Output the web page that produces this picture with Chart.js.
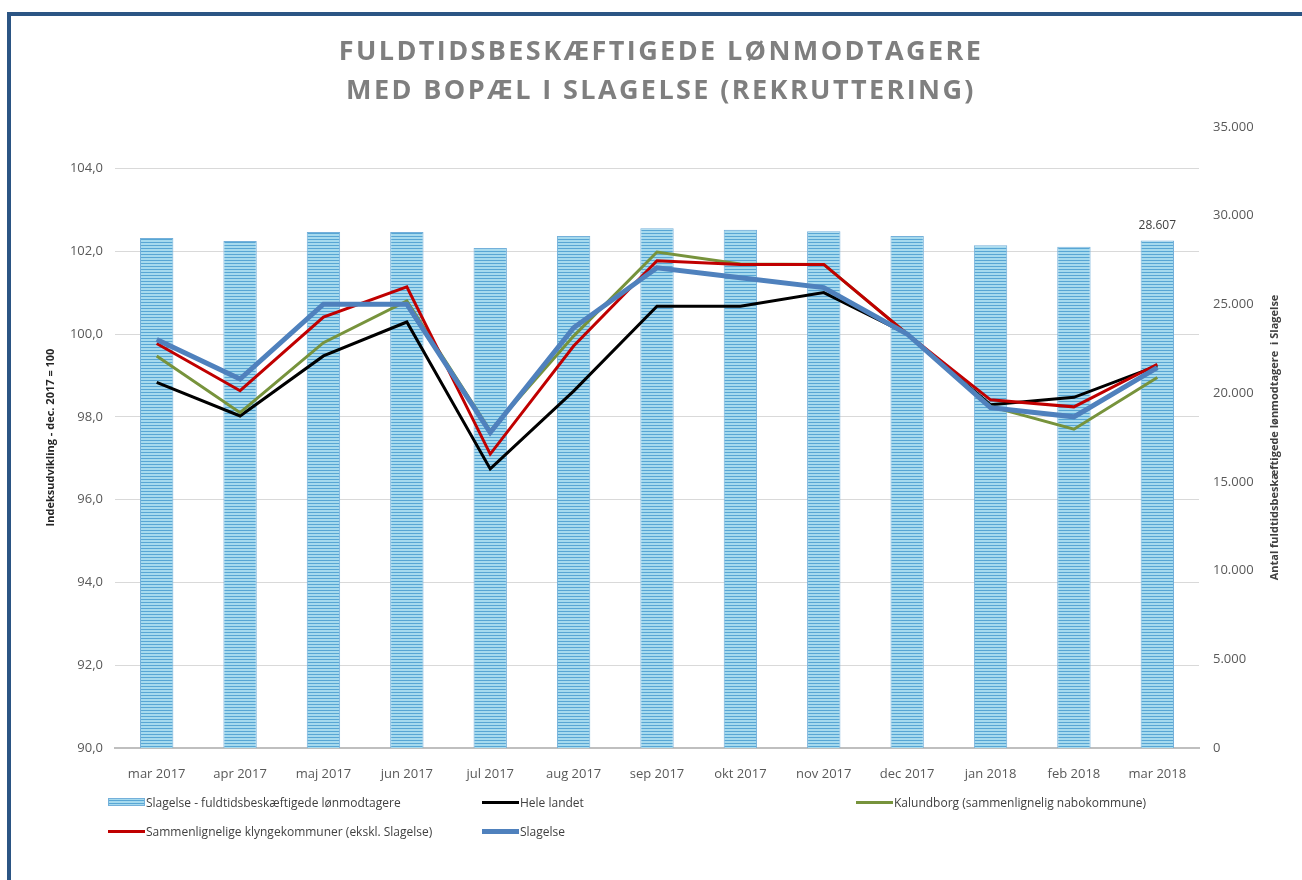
<!DOCTYPE html>
<html lang="da">
<head>
<meta charset="utf-8">
<title>Fuldtidsbeskæftigede lønmodtagere med bopæl i Slagelse</title>
<script src="https://cdn.jsdelivr.net/npm/chart.js@4.4.1/dist/chart.umd.min.js"></script>
<style>
  html, body { margin: 0; padding: 0; background: #fff; }
  body { width: 1302px; height: 880px; position: relative; overflow: hidden; font-family: "Open Sans", sans-serif; }
  #frame {
    position: absolute; left: 7px; top: 12px; right: -10px; bottom: -10px;
    border-top: 4px solid #2b5584; border-left: 4px solid #2b5584;
  }
  #chartBox { position: absolute; left: 0; top: 0; width: 1302px; height: 880px; }
  #title {
    position: absolute; left: 0; width: 1322px; top: 30px;
    text-align: center; color: #7f7f7f; font-weight: bold;
    font-size: 27px; line-height: 39px; letter-spacing: 2.4px;
  }
  #legend {
    position: absolute; left: 108px; top: 793px;
    display: grid; grid-template-columns: 374px 374px 374px; row-gap: 11px;
    font-size: 12px; color: #404040;
  }
  .item { display: flex; align-items: center; height: 18px; white-space: nowrap; }
  .swatch { width: 37px; margin-right: 1px; }
</style>
</head>
<body>
<div id="frame"></div>
<div id="chartBox"><canvas id="chart" width="1302" height="880"></canvas></div>
<div id="title">FULDTIDSBESKÆFTIGEDE LØNMODTAGERE<br>MED BOPÆL I SLAGELSE (REKRUTTERING)</div>
<div id="legend"></div>

<script>
// Categories (months)
const months = ['mar 2017', 'apr 2017', 'maj 2017', 'jun 2017', 'jul 2017', 'aug 2017', 'sep 2017',
  'okt 2017', 'nov 2017', 'dec 2017', 'jan 2018', 'feb 2018', 'mar 2018'];

// Number of full-time employees living in Slagelse (right axis)
const antalSlagelse = [28750, 28570, 29080, 29080, 28180, 28850, 29300, 29210, 29130, 28850, 28330, 28250, 28607];

// Index development, dec. 2017 = 100 (left axis)
const heleLandet    = [98.83, 98.02, 99.47, 100.29, 96.74, 98.62, 100.67, 100.67, 101.00, 100.0, 98.29, 98.47, 99.23];
const kalundborg    = [99.47, 98.10, 99.79, 100.80, 97.66, 99.95, 101.98, 101.69, 101.68, 100.0, 98.25, 97.70, 98.95];
const klyngeKomm    = [99.77, 98.63, 100.41, 101.14, 97.10, 99.71, 101.77, 101.68, 101.68, 100.0, 98.41, 98.24, 99.27];
const slagelseIndex = [99.87, 98.91, 100.72, 100.72, 97.62, 100.15, 101.60, 101.36, 101.12, 100.0, 98.22, 98.00, 99.19];

// Tick settings
const leftMin = 90, leftMax = 105, leftStep = 2, leftLastTick = 104;
const rightMin = 0, rightMax = 35000, rightStep = 5000;

const labelFont = '"Open Sans", sans-serif';

/**
 * Striped fill used for the bars (light and darker blue lines)
 */
function makeStripes() {
  const c = document.createElement('canvas');
  c.width = 4; c.height = 3;
  const g = c.getContext('2d');
  g.fillStyle = '#a6daee';
  g.fillRect(0, 0, 4, 3);
  g.fillStyle = '#58a6d4';
  g.fillRect(0, 2, 4, 1);
  return g.createPattern(c, 'repeat');
}

// Danish number formats
const fmtIndex = v => v.toFixed(1).replace('.', ',');
const fmtCount = v => String(Math.round(v)).replace(/\B(?=(\d{3})+(?!\d))/g, '.');

// Right axis title reads bottom-to-top, and the value label above the last bar
const extrasPlugin = {
  id: 'extras',
  afterDraw(chart) {
    const ctx = chart.ctx;
    const area = chart.chartArea;
    ctx.save();
    // value label on the last bar
    const meta = chart.getDatasetMeta(0);
    const last = meta.data[meta.data.length - 1];
    ctx.fillStyle = '#404040';
    ctx.font = '12px ' + labelFont;
    ctx.textAlign = 'center';
    ctx.textBaseline = 'bottom';
    ctx.fillText(fmtCount(antalSlagelse[antalSlagelse.length - 1]), last.x, last.y - 9);
    // right axis title
    ctx.translate(1275, (area.top + area.bottom) / 2);
    ctx.rotate(-Math.PI / 2);
    ctx.font = 'bold 11px ' + labelFont;
    ctx.textBaseline = 'middle';
    ctx.fillText('Antal fuldtidsbeskæftigede lønmodtagere  i Slagelse', 0, 0);
    ctx.restore();
  }
};

const ctx = document.getElementById('chart').getContext('2d');

window.mainChart = new Chart(ctx, {
  data: {
    labels: months,
    datasets: [
      {
        type: 'bar',
        label: 'Slagelse - fuldtidsbeskæftigede lønmodtagere',
        data: antalSlagelse,
        yAxisID: 'y1',
        backgroundColor: makeStripes(),
        borderColor: '#74b0da',
        borderWidth: 1,
        barPercentage: 0.4,
        categoryPercentage: 1,
        order: 10
      },
      { type: 'line', label: 'Hele landet', data: heleLandet, yAxisID: 'y',
        borderColor: '#000000', borderWidth: 3, pointRadius: 0, tension: 0, order: 4 },
      { type: 'line', label: 'Kalundborg (sammenlignelig nabokommune)', data: kalundborg, yAxisID: 'y',
        borderColor: '#77933c', borderWidth: 3, pointRadius: 0, tension: 0, order: 3 },
      { type: 'line', label: 'Sammenlignelige klyngekommuner (ekskl. Slagelse)', data: klyngeKomm, yAxisID: 'y',
        borderColor: '#c00000', borderWidth: 3, pointRadius: 0, tension: 0, order: 2 },
      { type: 'line', label: 'Slagelse', data: slagelseIndex, yAxisID: 'y',
        borderColor: '#4f81bd', borderWidth: 5, pointRadius: 0, tension: 0, order: 1 }
    ]
  },
  options: {
    responsive: false,
    animation: false,
    layout: { padding: { left: 30, right: 0, top: 127, bottom: 96 } },
    plugins: {
      legend: { display: false },
      tooltip: { enabled: false },
      title: { display: false }
    },
    scales: {
      x: {
        grid: { display: false },
        border: { display: true, color: '#bfbfbf', width: 2 },
        ticks: { color: '#595959', font: { family: labelFont, size: 13 }, padding: 10, maxRotation: 0 },
        afterFit(scale) { scale.height = 36; }
      },
      y: {
        position: 'left',
        min: leftMin,
        max: leftMax,
        grid: { color: '#d9d9d9', lineWidth: 1, drawTicks: false },
        border: { display: false },
        ticks: {
          stepSize: leftStep,
          padding: 12,
          color: '#595959',
          font: { family: labelFont, size: 13 },
          callback: v => fmtIndex(v)
        },
        afterBuildTicks(scale) {
          scale.ticks = scale.ticks.filter(t => t.value <= leftLastTick);
        },
        title: {
          display: true,
          text: 'Indeksudvikling - dec. 2017 = 100',
          color: '#262626',
          font: { family: labelFont, size: 11, weight: 'bold' },
          padding: { top: 14, bottom: 0 }
        },
        afterFit(scale) { scale.width = 85; }
      },
      y1: {
        position: 'right',
        min: rightMin,
        max: rightMax,
        grid: { display: false, drawTicks: false },
        border: { display: false },
        ticks: {
          stepSize: rightStep,
          padding: 14,
          color: '#595959',
          font: { family: labelFont, size: 13 },
          callback: v => fmtCount(v)
        },
        afterFit(scale) { scale.width = 103; }
      }
    }
  },
  plugins: [extrasPlugin]
});

// HTML legend, laid out in three columns like the original
(function buildLegend() {
  const legend = document.getElementById('legend');
  const items = [
    { text: 'Slagelse - fuldtidsbeskæftigede lønmodtagere', bar: true },
    { text: 'Hele landet', color: '#000000', h: 3 },
    { text: 'Kalundborg (sammenlignelig nabokommune)', color: '#77933c', h: 3 },
    { text: 'Sammenlignelige klyngekommuner (ekskl. Slagelse)', color: '#c00000', h: 3 },
    { text: 'Slagelse', color: '#4f81bd', h: 5 }
  ];
  items.forEach(it => {
    const div = document.createElement('div');
    div.className = 'item';
    const sw = document.createElement('span');
    sw.className = 'swatch';
    if (it.bar) {
      sw.style.height = '8px';
      sw.style.background = 'repeating-linear-gradient(#a6daee 0 2px, #58a6d4 2px 3px)';
      sw.style.boxShadow = 'inset 0 0 0 1px #74b0da';
    } else {
      sw.style.height = it.h + 'px';
      sw.style.background = it.color;
    }
    const tx = document.createElement('span');
    tx.textContent = it.text;
    div.appendChild(sw);
    div.appendChild(tx);
    legend.appendChild(div);
  });
})();
</script>
</body>
</html>
